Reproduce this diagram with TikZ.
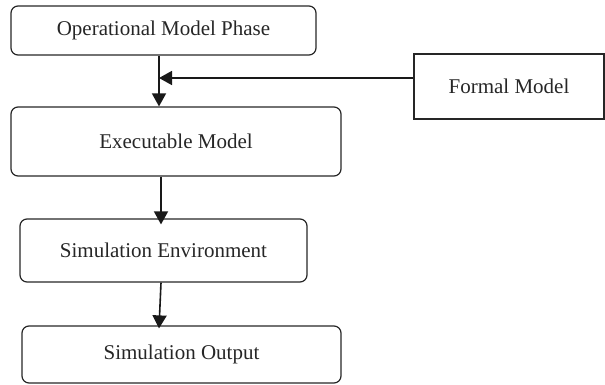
\documentclass[tikz,border=0pt]{standalone}
\usepackage{fontspec}
\setmainfont{Liberation Serif}
\usetikzlibrary{arrows.meta}
\begin{document}
\begin{tikzpicture}[x=1pt,y=-1pt,
  box/.style={draw=black!85, line width=1.2pt, rounded corners=7pt, inner sep=0pt,
    font=\fontsize{21}{24}\selectfont, text=black!85},
  plainbox/.style={box, rounded corners=0pt},
  arr/.style={draw=black!90, line width=1.6pt, -{Triangle[length=13pt,width=14pt]}}]
  \useasboundingbox (0,0) rectangle (605,385);
  % boxes
  \node[box, minimum width=305pt, minimum height=49pt] (op) at (163.5,30.5) {Operational Model Phase};
  \node[box, minimum width=330pt, minimum height=69pt] (ex) at (176,141.5) {Executable Model};
  \node[plainbox, minimum width=190pt, minimum height=65pt] (fm) at (509,86.5) {Formal Model};
  \node[box, minimum width=287pt, minimum height=63pt] (se) at (163.5,250.5) {Simulation Environment};
  \node[box, minimum width=319pt, minimum height=57pt] (so) at (181.5,354.5) {Simulation Output};
  % connector guides
  \coordinate (c1) at (159,0);
  \coordinate (c2) at (161,0);
  \coordinate (join) at (159,78);
  % connectors
  \draw[arr] (op.south -| c1) -- (ex.north -| c1);
  \draw[arr] (join -| fm.west) -- (join);
  \draw[arr] (ex.south -| c2) -- ([yshift=-6pt]se.north -| c2);
  \draw[arr] (se.south -| c2) -- ([yshift=-3pt]so.north -| c1);
\end{tikzpicture}
\end{document}
